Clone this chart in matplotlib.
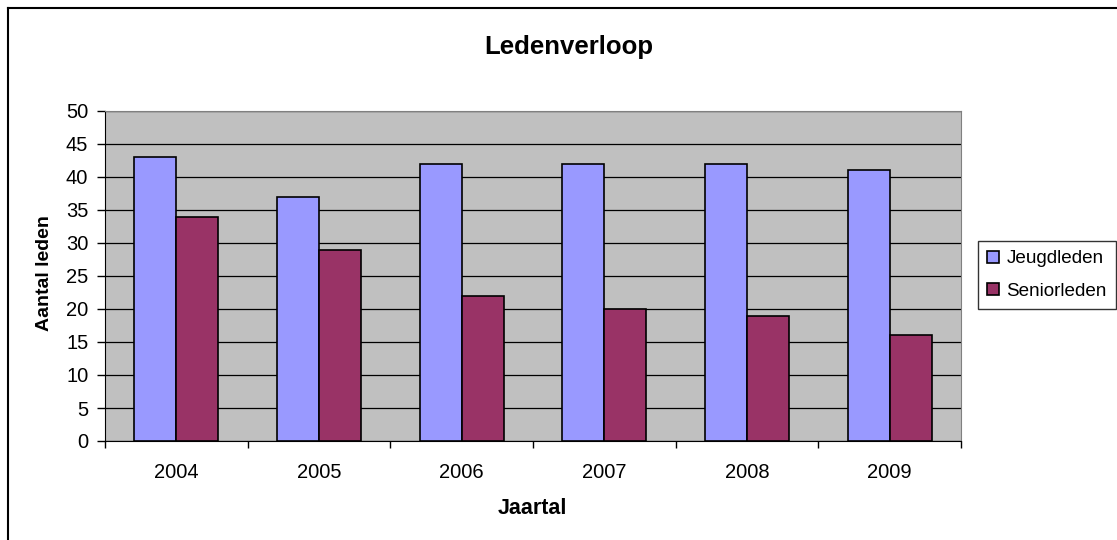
import matplotlib.pyplot as plt
import numpy as np
from matplotlib.lines import Line2D

plt.rcParams['font.family'] = ['Liberation Sans', 'DejaVu Sans']

# Data
jaren = ['2004', '2005', '2006', '2007', '2008', '2009']
jeugdleden = [43, 37, 42, 42, 42, 41]
seniorleden = [34, 29, 22, 20, 19, 16]

W, H = 1117, 540
fig = plt.figure(figsize=(W / 100, H / 100), dpi=100)
ax = fig.add_axes([105 / W, 1 - 441 / H, 856 / W, 330 / H])

x = np.arange(len(jaren))
w = 0.295
ax.bar(x - w / 2, jeugdleden, w, color='#9999FF', edgecolor='black', linewidth=1.2,
       label='Jeugdleden', zorder=3)
ax.bar(x + w / 2, seniorleden, w, color='#993366', edgecolor='black', linewidth=1.2,
       label='Seniorleden', zorder=3)

ax.set_facecolor('#C0C0C0')
ax.set_xlim(-0.5, len(jaren) - 0.5)
ax.set_ylim(0, 50)
ax.set_yticks(range(0, 51, 5))
ax.yaxis.grid(True, color='black', linewidth=0.9, zorder=1)
ax.set_axisbelow(True)

# ticks at category boundaries, labels centered
ax.set_xticks(np.arange(-0.5, len(jaren), 1.0))
ax.set_xticklabels([])
ax.set_xticks(x, minor=True)
ax.set_xticklabels(jaren, minor=True)
ax.tick_params(axis='x', which='minor', length=0, pad=16, labelsize=14.5)
ax.tick_params(axis='x', which='major', length=5, direction='out', width=1)
ax.tick_params(axis='y', length=6, direction='out', width=1, pad=6, labelsize=14.5)

for s in ['top', 'right']:
    ax.spines[s].set_color('#808080')
ax.spines['left'].set_color('black')
ax.spines['bottom'].set_color('black')

fig.text(44.5 / W, 1 - 273 / H, 'Aantal leden', rotation=90, ha='center', va='center',
         fontsize=14, fontweight='bold')
fig.text(532 / W, 1 - 509 / H, 'Jaartal', ha='center', va='center',
         fontsize=15.5, fontweight='bold')
fig.text(569 / W, 1 - 47 / H, 'Ledenverloop', ha='center', va='center',
         fontsize=18.5, fontweight='bold')

leg = fig.legend(loc='upper left', bbox_to_anchor=(978 / W, 1 - 241 / H),
                 fontsize=13.6, frameon=True, fancybox=False, edgecolor='black',
                 handlelength=0.6, handleheight=0.6, handletextpad=0.4,
                 borderpad=0.5, labelspacing=0.8, borderaxespad=0)
leg.get_frame().set_linewidth(1.0)

# outer chart border
fig.add_artist(Line2D([8 / W, 1.0], [1 - 8 / H, 1 - 8 / H], color='black',
                      linewidth=1.5, transform=fig.transFigure))
fig.add_artist(Line2D([8 / W, 8 / W], [0.0, 1 - 8 / H], color='black',
                      linewidth=1.5, transform=fig.transFigure))

plt.savefig('out.png', dpi=100)
plt.close()
